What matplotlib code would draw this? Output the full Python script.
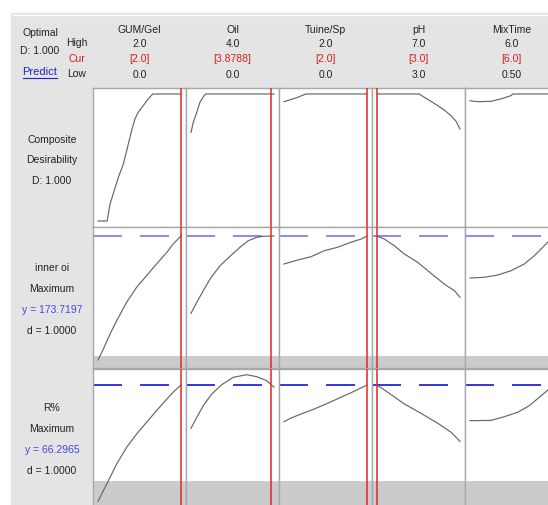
import matplotlib.pyplot as plt
from matplotlib.lines import Line2D
from matplotlib.patches import Rectangle

plt.rcParams['font.family'] = ['Liberation Sans', 'DejaVu Sans']

W, H = 548, 506

# factor settings
factors = ['GUM/Gel', 'Oil', 'Tuine/Sp', 'pH', 'MixTime']
low = [0.0, 0.0, 0.0, 3.0, 0.5]
high = [2.0, 4.0, 2.0, 7.0, 6.0]
cur = [2.0, 3.8788, 2.0, 3.0, 6.0]
high_txt = ['2.0', '4.0', '2.0', '7.0', '6.0']
cur_txt = ['[2.0]', '[3.8788]', '[2.0]', '[3.0]', '[6.0]']
low_txt = ['0.0', '0.0', '0.0', '3.0', '0.50']

# composite desirability traces
d_x = [
    [0, 0.22, 0.29, 0.39, 0.49, 0.61, 0.73, 0.81, 0.89, 0.97, 1.09, 1.21, 1.32, 2.0],
    [0, 0.11, 0.28, 0.43, 0.63, 0.72, 4.0],
    [0, 0.13, 0.29, 0.49, 0.53, 2.0],
    [3.0, 5.04, 5.28, 5.60, 5.93, 6.24, 6.57, 6.81, 7.0],
    [0.5, 1.01, 1.89, 2.55, 3.22, 3.33, 6.0],
]
d_y = [
    [0, 0, 0.134, 0.238, 0.343, 0.448, 0.606, 0.711, 0.803, 0.856, 0.908, 0.961, 1.0, 1.0],
    [0.698, 0.777, 0.856, 0.935, 0.987, 1.0, 1.0],
    [0.939, 0.953, 0.969, 0.995, 1.0, 1.0],
    [1.0, 1.0, 0.974, 0.942, 0.908, 0.874, 0.829, 0.785, 0.724],
    [0.947, 0.939, 0.942, 0.961, 0.987, 1.0, 1.0],
]

# inner oi traces
oi_x = [
    [0, 0.13, 0.29, 0.45, 0.69, 0.93, 1.17, 1.41, 1.66, 1.81, 2.0],
    [0, 0.28, 0.59, 0.92, 1.40, 1.88, 2.36, 2.76, 3.17, 3.48, 3.8788, 4.0],
    [0, 0.33, 0.65, 0.97, 1.29, 1.61, 1.86, 2.0],
    [3.0, 3.35, 3.83, 4.32, 4.96, 5.60, 6.24, 6.73, 7.0],
    [0.5, 1.45, 2.34, 3.22, 4.10, 4.76, 5.32, 5.74, 6.0],
]
oi_y = [
    [97.55, 104.30, 113.52, 121.69, 133.00, 142.21, 149.33, 156.52, 163.71, 168.81, 173.72],
    [126.23, 133.00, 140.12, 147.31, 155.48, 161.25, 166.78, 170.83, 172.92, 173.55, 173.72, 173.70],
    [156.52, 158.98, 161.00, 164.69, 166.78, 169.85, 171.88, 173.72],
    [173.72, 171.88, 167.76, 162.66, 157.56, 150.81, 144.23, 140.12, 136.06],
    [147.92, 148.35, 149.76, 152.40, 156.52, 161.62, 166.78, 170.83, 173.72],
]

# R% traces
r_x = [
    [0, 0.21, 0.45, 0.69, 0.93, 1.17, 1.41, 1.66, 1.81, 2.0],
    [0, 0.28, 0.59, 1.0, 1.48, 2.04, 2.68, 3.17, 3.65, 3.8788, 4.0],
    [0, 0.17, 0.41, 0.73, 1.05, 1.37, 1.69, 2.0],
    [3.0, 3.52, 4.32, 5.12, 5.93, 6.57, 7.0],
    [0.5, 1.89, 2.77, 3.66, 4.43, 5.09, 5.74, 6.0],
]
r_y = [
    [34.44, 39.18, 44.66, 49.23, 52.87, 56.08, 59.26, 62.46, 64.30, 66.30],
    [54.44, 57.45, 60.63, 63.83, 66.38, 68.41, 69.12, 68.57, 67.47, 66.30, 65.75],
    [56.24, 57.26, 58.35, 59.72, 61.28, 62.93, 64.57, 66.30],
    [66.30, 64.30, 61.09, 58.55, 55.81, 53.34, 50.87],
    [56.52, 56.6, 57.61, 58.82, 60.63, 62.93, 65.20, 66.30],
]

responses = ['inner oi', 'R%']
resp_y = [173.7197, 66.2965]
resp_lower = [100, 40]
resp_d = ['1.0000', '1.0000']

rows = [
    dict(xs=d_x, ys=d_y, ylim=(-0.047, 1.047), top=89, h=139, ref=None),
    dict(xs=oi_x, ys=oi_y, ylim=(92.63, 179.25), top=228, h=141, ref=0),
    dict(xs=r_x, ys=r_y, ylim=(32.33, 70.68), top=370, h=140, ref=1),
]
ref_colors = ['#8a8aee', '#3535dd']

TXT = '#222222'
RED = '#d42020'
BLUE = '#4646e0'
FS = 7.5

fig = plt.figure(figsize=(W / 100, H / 100), dpi=100)
fig.patches.append(Rectangle((11 / W, 0), 1 - 11 / W, 1 - 14 / H,
                             transform=fig.transFigure, color='#e4e4e4', zorder=-5))
fig.lines.append(Line2D([13 / W, 1], [1 - 15.5 / H] * 2, transform=fig.transFigure,
                        color='white', lw=0.8, zorder=-4))


def ftext(x, y, s, **kw):
    kw.setdefault('color', TXT)
    kw.setdefault('fontsize', FS)
    fig.text(x / W, 1 - y / H, s, ha='center', va='center', **kw)


# header block
ftext(40, 33, 'Optimal')
ftext(40, 51, 'D: 1.000')
ftext(40, 72, 'Predict', color='#2020d0', fontsize=8)
fig.lines.append(Line2D([23 / W, 57 / W], [1 - 78.5 / H] * 2, transform=fig.transFigure,
                        color='#2020d0', lw=0.8))
ftext(77, 43, 'High')
ftext(77, 59, 'Cur', color=RED)
ftext(77, 74, 'Low')

col_left = [93, 186, 279, 372, 465]
col_w = 93
for j, name in enumerate(factors):
    cx = col_left[j] + col_w / 2
    ftext(cx, 30, name)
    ftext(cx, 44, high_txt[j])
    ftext(cx, 59, cur_txt[j], color=RED)
    ftext(cx, 75, low_txt[j])

# row labels
ftext(52, 140, 'Composite')
ftext(52, 160, 'Desirability')
ftext(52, 181, 'D: 1.000')
for k, (top, name) in enumerate(zip([268, 408], responses)):
    ftext(52, top, name)
    ftext(52, top + 21, 'Maximum')
    ftext(52, top + 42, 'y = %.4f' % resp_y[k], color=BLUE)
    ftext(52, top + 63, 'd = ' + resp_d[k])

dash = (0, (14.9, 9.3))
for row in rows:
    for j in range(5):
        ax = fig.add_axes([col_left[j] / W, 1 - (row['top'] + row['h']) / H,
                           col_w / W, row['h'] / H])
        ax.set_facecolor('white')
        pad = (high[j] - low[j]) * 5 / 83
        ax.set_xlim(low[j] - pad, high[j] + pad)
        ax.set_ylim(*row['ylim'])
        ax.set_xticks([])
        ax.set_yticks([])
        for sp in ax.spines.values():
            sp.set_color('#a8a8a8')
            sp.set_linewidth(1.0)
        k = row['ref']
        if k is not None:
            ax.axhspan(row['ylim'][0], resp_lower[k], color='#cbcbcb', lw=0, zorder=1)
            ax.axhline(resp_y[k], color=ref_colors[k], lw=1.4, ls=dash, zorder=2)
        ax.plot(row['xs'][j], row['ys'][j], color='#666666', lw=0.85, zorder=3)
        ax.axvline(cur[j], color='#e02828', lw=1.1, zorder=4)

fig.savefig('out.png', dpi=100)
